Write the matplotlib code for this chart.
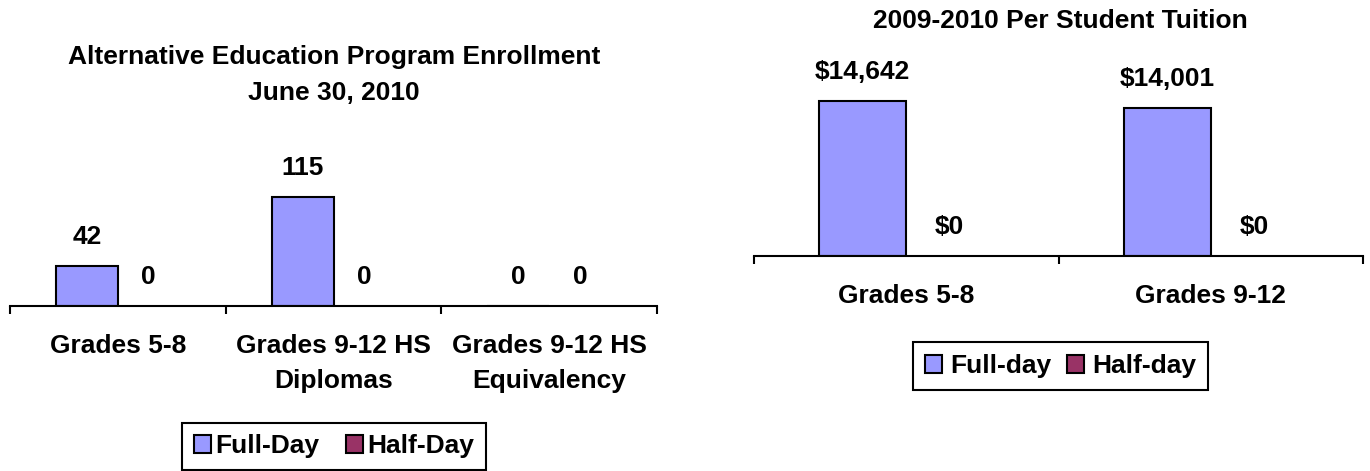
import matplotlib
matplotlib.use("Agg")
import numpy as np
import matplotlib.pyplot as plt
from matplotlib.patches import Patch

# enrollment chart data
enroll_cats = ["Grades 5-8", "Grades 9-12 HS\nDiplomas", "Grades 9-12 HS\nEquivalency"]
enroll_full = [42, 115, 0]
enroll_half = [0, 0, 0]

# tuition chart data
tuition_cats = ["Grades 5-8", "Grades 9-12"]
tuition_full = [14642, 14001]
tuition_half = [0, 0]

full_color = "#9999FF"
half_color = "#993366"

plt.rcParams["font.family"] = ["Liberation Sans", "DejaVu Sans"]
plt.rcParams["font.weight"] = "bold"
fs = 19

W, H = 1370, 471
fig = plt.figure(figsize=(W / 100, H / 100), dpi=100)


def px_box(x0, x1, ybase, ytop):
    return [x0 / W, (H - ybase) / H, (x1 - x0) / W, (ybase - ytop) / H]


def bar_chart(ax, cats, full, half, ymax, fmt):
    x = np.arange(len(cats))
    w = 0.286
    ax.bar(x - 0.143, full, w, color=full_color, edgecolor="black", linewidth=1.5)
    ax.bar(x + 0.143, half, w, color=half_color, edgecolor="black", linewidth=0)
    for xs, vals in [(x - 0.143, full), (x + 0.143, half)]:
        for xi, v in zip(xs, vals):
            ax.annotate(fmt(v), (xi, v), xytext=(0, 21), textcoords="offset points",
                        ha="center", va="center", fontsize=fs, fontweight="bold")
    ax.set_xlim(-0.5, len(cats) - 0.5)
    ax.set_ylim(0, ymax)
    ax.set_yticks([])
    for s in ["left", "right", "top"]:
        ax.spines[s].set_visible(False)
    ax.spines["bottom"].set_linewidth(1.5)
    ax.set_xticks(x)
    ax.set_xticklabels(cats, fontsize=fs, fontweight="bold", linespacing=1.6)
    ax.set_xticks(np.arange(len(cats) + 1) - 0.5, minor=True)
    ax.tick_params(axis="x", which="major", length=0, pad=20)
    ax.tick_params(axis="x", which="minor", length=6, width=1.5, direction="out")
    ax.patch.set_alpha(0)


# left: enrollment
ax1 = fig.add_axes(px_box(10, 657, 306, 306 - 140 * 109 / 115))
bar_chart(ax1, enroll_cats, enroll_full, enroll_half, 140, lambda v: f"{v}")
fig.text(334 / W, (H - 75) / H, "Alternative Education Program Enrollment\nJune 30, 2010",
         ha="center", va="center", fontsize=fs, fontweight="bold", linespacing=1.6)

# right: tuition
ax2 = fig.add_axes(px_box(754, 1363, 256, 256 - 16000 * 155 / 14642))
bar_chart(ax2, tuition_cats, tuition_full, tuition_half, 16000, lambda v: f"${v:,}")
fig.text(1060 / W, (H - 21) / H, "2009-2010 Per Student Tuition",
         ha="center", va="center", fontsize=fs, fontweight="bold")


def add_legend(labels, cx, cy, textpad, colspace):
    handles = [Patch(facecolor=full_color, edgecolor="black", linewidth=1.5, label=labels[0]),
               Patch(facecolor=half_color, edgecolor="black", linewidth=1.5, label=labels[1])]
    leg = fig.legend(handles=handles, loc="center", bbox_to_anchor=(cx / W, (H - cy) / H),
                     ncol=2, frameon=True, fancybox=False, edgecolor="black", framealpha=1,
                     prop={"size": fs, "weight": "bold"}, handlelength=0.65, handleheight=0.65,
                     handletextpad=textpad, columnspacing=colspace, borderpad=0.45)
    leg.get_frame().set_linewidth(1.5)


add_legend(["Full-Day", "Half-Day"], 334, 446.5, 0.15, 1.0)
add_legend(["Full-day", "Half-day"], 1060.5, 366, 0.3, 0.6)

fig.savefig("out.png", dpi=100)
